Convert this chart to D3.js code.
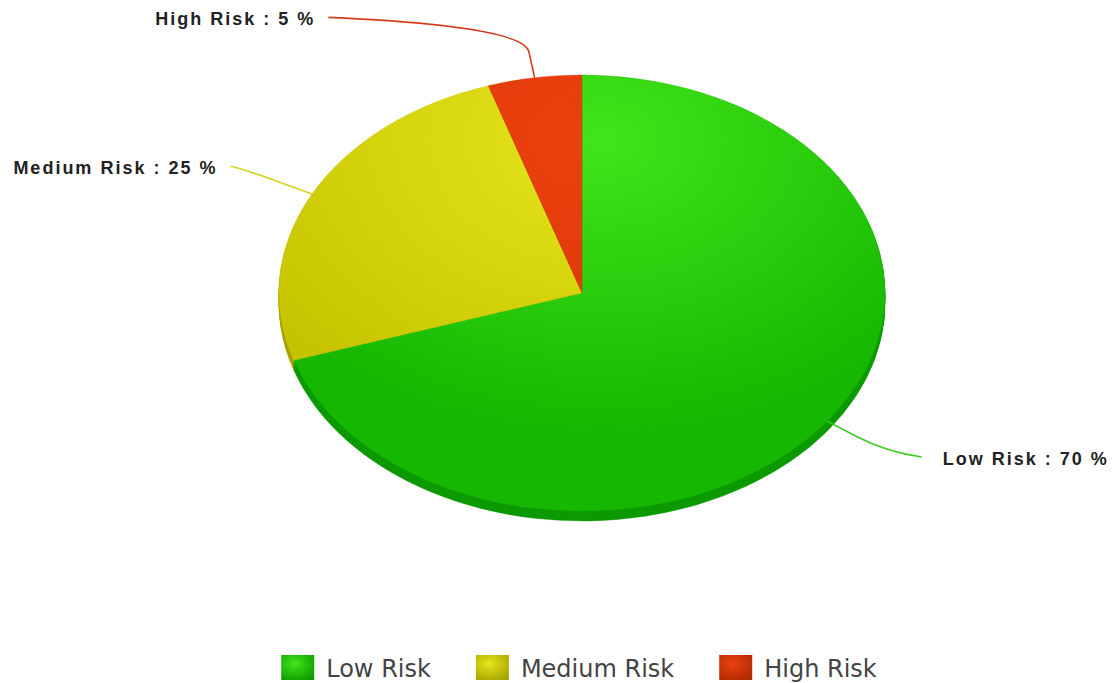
<!DOCTYPE html>
<html>
<head>
<meta charset="utf-8">
<script src="https://cdn.jsdelivr.net/npm/d3@7"></script>
<style>
  body { margin: 0; background: #fff; }
  svg { display: block; }
</style>
</head>
<body>
<div id="chart"></div>
<script>
// data
var categories = ['Low Risk', 'Medium Risk', 'High Risk'];
var values = [70, 25, 5];

// colours per category: top face light / base, side, legend
var lightColors = ['#42e41a', '#e6e61c', '#ea420e'];
var baseColors  = ['#15b700', '#c6c400', '#dc3206'];
var sideColors  = ['#0d9a00', '#a6a400', '#b02800'];

var width = 1112, height = 683;
var cx = 582, cy = 293, rx = 303, ry = 218, depth = 10;
// horizontal stretch for each label (layout only)
var labelShift = [26, 6, 193];

var svg = d3.select('#chart').append('svg')
    .attr('width', width)
    .attr('height', height);

var defs = svg.append('defs');

var slices = categories.map(function(c, i){
  return {name: c, value: values[i], i: i};
});

slices.forEach(function(d){
  var g = defs.append('radialGradient')
      .attr('id', 'grad' + d.i)
      .attr('gradientUnits', 'userSpaceOnUse')
      .attr('cx', 20).attr('cy', -rx * 0.7)
      .attr('r', rx * 1.35);
  g.append('stop').attr('offset', '0%').attr('stop-color', lightColors[d.i]);
  g.append('stop').attr('offset', '100%').attr('stop-color', baseColors[d.i]);

  var lg = defs.append('radialGradient')
      .attr('id', 'lgrad' + d.i)
      .attr('cx', '40%').attr('cy', '35%').attr('r', '75%');
  lg.append('stop').attr('offset', '0%').attr('stop-color', lightColors[d.i]);
  lg.append('stop').attr('offset', '100%').attr('stop-color', sideColors[d.i]);
});

var pie = d3.pie().sort(null).value(function(d){ return d.value; });
var arcs = pie(slices);

var arc = d3.arc().innerRadius(0).outerRadius(rx);

// side (depth) layers
var layers = d3.range(depth, 0, -1);
svg.selectAll('g.side')
    .data(layers)
  .enter().append('g')
    .attr('class', 'side')
    .attr('transform', function(k){ return 'translate(' + cx + ',' + (cy + k) + ') scale(1,' + (ry / rx) + ')'; })
  .selectAll('path')
    .data(arcs)
  .enter().append('path')
    .attr('d', arc)
    .attr('fill', function(d){ return sideColors[d.data.i]; })
    .attr('stroke', function(d){ return sideColors[d.data.i]; })
    .attr('stroke-width', 0.5);

// top face
svg.append('g')
    .attr('transform', 'translate(' + cx + ',' + cy + ') scale(1,' + (ry / rx) + ')')
  .selectAll('path')
    .data(arcs)
  .enter().append('path')
    .attr('d', arc)
    .attr('fill', function(d){ return 'url(#grad' + d.data.i + ')'; })
    .attr('stroke', function(d){ return baseColors[d.data.i]; })
    .attr('stroke-width', 0.4);

// point on the ellipse at angle a, radius factor k
var onEllipse = function(a, k){
  return [cx + rx * k * Math.sin(a), cy - ry * k * Math.cos(a)];
};

// leader lines and labels
var labels = svg.append('g');
arcs.forEach(function(d){
  var mid = (d.startAngle + d.endAngle) / 2;
  var p0 = onEllipse(mid, 1.0);
  var p1 = onEllipse(mid, 1.12);
  var pc = onEllipse(mid, 1.24);
  var right = Math.sin(mid) > 0;
  var p2 = onEllipse(mid, 1.28);
  p2[0] += right ? labelShift[d.data.i] : -labelShift[d.data.i];
  var path = d3.path();
  path.moveTo(p0[0], p0[1]);
  path.lineTo(p1[0], p1[1]);
  path.quadraticCurveTo(pc[0], pc[1], p2[0], p2[1]);
  labels.append('path')
      .attr('d', path.toString())
      .attr('fill', 'none')
      .attr('stroke', d.data.i === 0 ? '#3ccc1e' : (d.data.i === 1 ? '#d4d41c' : '#d63c1a'))
      .attr('stroke-width', 1.6);
  labels.append('text')
      .attr('x', right ? p2[0] + 21 : p2[0] - 13)
      .attr('y', p2[1] + 3)
      .attr('text-anchor', right ? 'start' : 'end')
      .attr('dominant-baseline', 'middle')
      .style('font-family', '"Liberation Sans", Arial, sans-serif')
      .style('font-weight', 'bold')
      .style('font-size', '18px')
      .style('letter-spacing', '2px')
      .attr('fill', '#222')
      .text(d.data.name + ' : ' + d.data.value + ' %');
});

// legend
var legend = svg.append('g');
var items = legend.selectAll('g.item')
    .data(slices)
  .enter().append('g')
    .attr('class', 'item');
items.append('rect')
    .attr('y', 655)
    .attr('width', 33).attr('height', 25)
    .attr('fill', function(d){ return 'url(#lgrad' + d.i + ')'; });
items.append('text')
    .attr('x', 45)
    .attr('y', 677)
    .style('font-family', '"DejaVu Sans", sans-serif')
    .style('font-size', '24px')
    .attr('fill', '#444')
    .text(function(d){ return d.name; });

var offset = 0;
var positions = [];
items.each(function(){
  var w = 45 + d3.select(this).select('text').node().getComputedTextLength();
  positions.push(offset);
  offset += w + 45;
});
var total = offset - 45;
var startX = cx - total / 2 - 3;
items.attr('transform', function(d, i){ return 'translate(' + (startX + positions[i]) + ',0)'; });
</script>
</body>
</html>
